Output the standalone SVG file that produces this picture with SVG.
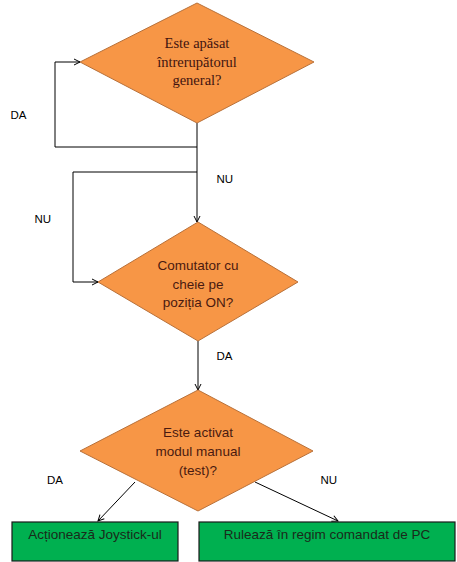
<svg xmlns="http://www.w3.org/2000/svg" width="457" height="562" viewBox="0 0 457 562">
<defs>
<style>
.dec{fill:#F79646;stroke:#B8713A;stroke-width:1}
.box{fill:#00B050;stroke:#1a1a1a;stroke-width:1.2}
.serif{font-family:"Liberation Serif","Times New Roman",serif;font-size:14.5px;fill:#3f1410;text-anchor:middle}
.sans{font-family:"Liberation Sans",Arial,sans-serif;font-size:13.5px;fill:#4a1a10;text-anchor:middle}
.btxt{font-family:"Liberation Sans",Arial,sans-serif;font-size:13.5px;fill:#1a2a1a;text-anchor:middle}
.lbl{font-family:"Liberation Sans",Arial,sans-serif;font-size:11.5px;fill:#000}
.con{fill:none;stroke:#000;stroke-width:1}
</style>
<marker id="arr" markerWidth="8" markerHeight="8" refX="7" refY="4" orient="auto" markerUnits="userSpaceOnUse">
<path d="M1,1 L7,4 L1,7" fill="none" stroke="#000" stroke-width="1"/>
</marker>
</defs>
<rect width="457" height="562" fill="#fff"/>
<g id="connectors">
<polyline class="con" points="197,123 197,147 55,147 55,62 80,62" marker-end="url(#arr)"/>
<polyline class="con" points="197,147 197,222" marker-end="url(#arr)"/>
<polyline class="con" points="197,172 73,172 73,282 98,282" marker-end="url(#arr)"/>
<polyline class="con" points="198,341 198,390" marker-end="url(#arr)"/>
<line class="con" x1="135" y1="482" x2="98" y2="521" marker-end="url(#arr)"/>
<line class="con" x1="255" y1="482" x2="338" y2="521" marker-end="url(#arr)"/>
<text class="lbl" x="10.5" y="119">DA</text>
<text class="lbl" x="216.5" y="182.5">NU</text>
<text class="lbl" x="34.5" y="223">NU</text>
<text class="lbl" x="216.5" y="360">DA</text>
<text class="lbl" x="47" y="484">DA</text>
<text class="lbl" x="320.5" y="484">NU</text>
</g>
<g id="d1">
<polygon class="dec" points="197,3 314,62 197,123 80,62"/>
<text class="serif" x="197" y="48">Este apăsat</text>
<text class="serif" x="197" y="67">întrerupătorul</text>
<text class="serif" x="197" y="85">general?</text>
</g>
<g id="d2">
<polygon class="dec" points="198,222 298,282 198,341 98,282"/>
<text class="sans" x="198" y="270">Comutator cu</text>
<text class="sans" x="198" y="288.5">cheie pe</text>
<text class="sans" x="198" y="307">poziția ON?</text>
</g>
<g id="d3">
<polygon class="dec" points="198,390 313,451 198,511 80,451"/>
<text class="sans" x="198" y="437">Este activat</text>
<text class="sans" x="198" y="456">modul manual</text>
<text class="sans" x="198" y="475">(test)?</text>
</g>
<g id="b1">
<rect class="box" x="12" y="522" width="166" height="39"/>
<text class="btxt" x="95" y="538.5">Acționează Joystick-ul</text>
</g>
<g id="b2">
<rect class="box" x="199" y="522" width="256" height="39"/>
<text class="btxt" x="327" y="538.5">Rulează în regim comandat de PC</text>
</g>
</svg>
